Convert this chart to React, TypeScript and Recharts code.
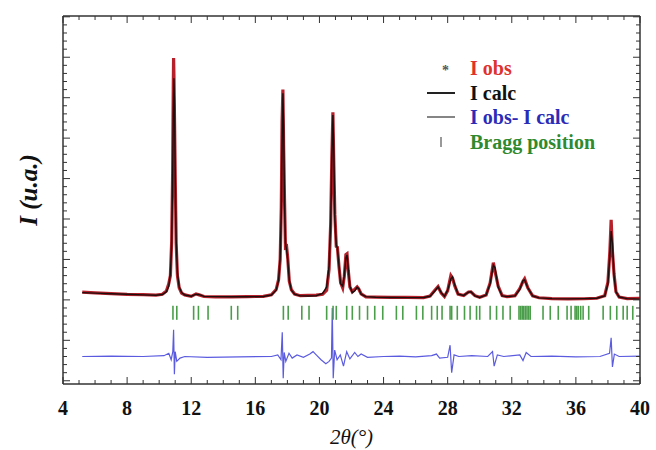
import React from 'react';
import {
  ComposedChart, Line, Scatter, XAxis, YAxis, Legend, Label,
} from 'recharts';

// 2θ / intensity pairs (arbitrary units)
const calcPts: [number, number][] = [
  [5.2, 90], [6.0, 84], [7.0, 76], [8.0, 70], [9.0, 62], [9.8, 58], [10.2, 66],
  [10.45, 100], [10.6, 170], [10.7, 330], [10.78, 700], [10.84, 1500], [10.88, 2300],
  [10.92, 2740], [10.96, 2400], [11.0, 1500], [11.06, 750], [11.14, 330], [11.25, 160],
  [11.4, 90], [11.6, 60], [12.0, 46], [12.3, 70], [12.5, 64], [12.8, 44], [13.5, 40],
  [14.5, 38], [15.5, 38], [16.5, 42], [17.0, 60], [17.3, 120], [17.45, 240], [17.55, 520],
  [17.62, 1100], [17.67, 1900], [17.72, 2556], [17.77, 2100], [17.82, 1200], [17.88, 700],
  [17.95, 620], [18.02, 500], [18.12, 240], [18.25, 120], [18.45, 70], [18.8, 50],
  [19.3, 48], [19.8, 52], [20.2, 80], [20.45, 160], [20.6, 420], [20.7, 950], [20.77, 1700],
  [20.84, 2285], [20.9, 1800], [20.96, 1000], [21.05, 680], [21.12, 640], [21.22, 420],
  [21.32, 200], [21.45, 170], [21.55, 300], [21.65, 520], [21.72, 556], [21.8, 380],
  [21.9, 170], [22.05, 90], [22.2, 110], [22.35, 155], [22.45, 140], [22.6, 70], [22.9, 40],
  [23.5, 32], [24.5, 30], [25.5, 28], [26.5, 30], [26.9, 45], [27.2, 110], [27.4, 160],
  [27.6, 90], [27.8, 45], [28.0, 120], [28.2, 260], [28.3, 284], [28.45, 180], [28.65, 70],
  [29.0, 55], [29.3, 95], [29.45, 100], [29.7, 50], [30.0, 30], [30.4, 60], [30.65, 200],
  [30.85, 430], [30.95, 400], [31.15, 160], [31.4, 50], [31.7, 40], [32.2, 50], [32.5, 130],
  [32.7, 240], [32.8, 247], [33.0, 150], [33.3, 50], [33.7, 25], [34.5, 15], [35.5, 12],
  [36.5, 15], [37.3, 20], [37.8, 50], [38.0, 200], [38.12, 560], [38.2, 850], [38.28, 700],
  [38.38, 300], [38.5, 100], [38.7, 35], [39.2, 15], [40.0, 10],
];

const obsPts: [number, number][] = [
  [5.2, 95], [6.0, 86], [7.0, 78], [8.0, 68], [9.0, 64], [9.8, 60], [10.2, 70],
  [10.45, 110], [10.6, 200], [10.7, 300], [10.78, 720], [10.84, 1560], [10.88, 2620],
  [10.9, 2990], [10.92, 2800], [10.96, 2200], [11.0, 1550], [11.06, 700], [11.14, 300],
  [11.25, 150], [11.4, 85], [11.6, 62], [12.0, 44], [12.3, 74], [12.5, 62], [12.8, 42],
  [13.5, 38], [14.5, 36], [15.5, 40], [16.5, 44], [17.0, 62], [17.3, 128], [17.45, 250],
  [17.55, 500], [17.62, 1150], [17.67, 2200], [17.72, 2600], [17.77, 1850], [17.82, 1250],
  [17.88, 650], [17.95, 660], [18.02, 520], [18.12, 230], [18.25, 125], [18.45, 72],
  [18.8, 52], [19.3, 55], [19.8, 58], [20.2, 70], [20.45, 120], [20.6, 380], [20.7, 930],
  [20.77, 1720], [20.84, 2320], [20.9, 1650], [20.96, 1060], [21.05, 660], [21.12, 650],
  [21.22, 410], [21.32, 215], [21.45, 150], [21.55, 290], [21.65, 560], [21.72, 570],
  [21.8, 360], [21.9, 160], [22.05, 100], [22.2, 130], [22.35, 160], [22.45, 135],
  [22.6, 75], [22.9, 38], [23.5, 34], [24.5, 30], [25.5, 30], [26.5, 28], [26.9, 48],
  [27.2, 120], [27.4, 165], [27.6, 85], [27.8, 42], [28.0, 115], [28.2, 300], [28.3, 270],
  [28.45, 170], [28.65, 72], [29.0, 55], [29.3, 98], [29.45, 100], [29.7, 52], [30.0, 32],
  [30.4, 60], [30.65, 210], [30.85, 460], [30.95, 360], [31.15, 170], [31.4, 52],
  [31.7, 40], [32.2, 52], [32.5, 140], [32.7, 230], [32.8, 260], [33.0, 150], [33.3, 50],
  [33.7, 26], [34.5, 16], [35.5, 12], [36.5, 14], [37.3, 20], [37.8, 52], [38.0, 220],
  [38.12, 600], [38.2, 990], [38.28, 600], [38.38, 320], [38.5, 100], [38.7, 35],
  [39.2, 16], [40.0, 20],
];

// Iobs - Icalc, drawn shifted down by DIFF_OFFSET
const DIFF_OFFSET = -700;
const diffPts: [number, number][] = [
  [5.2, 0], [7.0, 5], [9.0, 0], [10.3, 10], [10.6, 40], [10.75, -40], [10.85, 60],
  [10.9, 330], [10.95, -220], [11.0, 60], [11.1, -60], [11.3, -20], [11.6, 0], [13.0, -10],
  [15.0, -5], [17.0, 0], [17.4, 20], [17.6, -40], [17.68, 300], [17.74, -270], [17.8, 50],
  [17.9, -60], [18.1, 40], [18.3, -20], [18.6, 20], [19.0, -10], [19.4, 30], [19.6, 60],
  [19.8, 20], [20.1, -40], [20.4, -90], [20.6, -60], [20.75, -20], [20.8, 600],
  [20.86, -270], [20.95, 80], [21.1, -40], [21.3, 20], [21.5, -120], [21.7, 60],
  [21.9, -30], [22.2, 50], [22.4, 0], [22.6, 30], [23.0, -10], [24.0, 0], [25.0, 5],
  [26.0, -5], [27.0, 10], [27.3, 30], [27.5, -20], [28.0, -10], [28.15, 140],
  [28.25, -200], [28.4, 20], [28.7, 0], [29.5, 10], [30.5, 0], [30.8, 60], [30.9, -120],
  [31.1, 20], [31.5, 0], [32.5, 20], [32.7, -50], [32.9, 50], [33.2, 0], [34.5, 5],
  [36.0, -5], [37.5, 0], [38.1, 40], [38.2, 230], [38.28, -130], [38.4, 30], [38.7, 0],
  [40.0, 5],
];

const braggPos: number[] = [
  10.86, 11.1, 12.15, 12.45, 13.05, 14.5, 14.9, 17.75, 18.05, 18.9, 19.35, 20.45,
  20.85, 21.05, 21.7, 22.05, 22.5, 23.0, 23.45, 23.95, 24.8, 25.2, 26.05, 26.45, 27.0,
  27.35, 27.65, 28.15, 28.25, 28.6, 29.05, 29.4, 29.8, 30.0, 30.65, 31.05, 31.45, 31.9,
  32.45, 32.55, 32.65, 32.75, 32.85, 32.95, 33.05, 33.15, 33.95, 34.4, 34.9, 35.45,
  35.7, 35.95, 36.05, 36.15, 36.3, 36.45, 36.8, 37.7, 38.15, 38.55, 38.95, 39.2, 39.55,
];
const BRAGG_LEVEL = -160;

const X_DOMAIN: [number, number] = [4, 40];
const Y_DOMAIN: [number, number] = [-1040, 3510];
const X_TICKS = Array.from({ length: 37 }, (_, i) => 4 + i);
const Y_TICKS = Array.from({ length: 46 }, (_, i) => -1000 + i * 100);

const obsData = obsPts.map(([x, y]) => ({ x, y }));
const calcData = calcPts.map(([x, y]) => ({ x, y }));
const diffData = diffPts.map(([x, y]) => ({ x, y: y + DIFF_OFFSET }));
const braggData = braggPos.map(x => ({ x, y: BRAGG_LEVEL }));

const AXIS = '#333';
const SERIF = '"Liberation Serif", "Times New Roman", serif';

const BottomTick = ({ x, y, payload }: any) => {
  const major = payload.value % 4 === 0;
  return (
    <g>
      <line x1={x} x2={x} y1={y} y2={y - (major ? 7 : 4)} stroke={AXIS} />
      {major && (
        <text x={x} y={y + 31} textAnchor="middle" fontFamily={SERIF}
          fontWeight="bold" fontSize={20} fill="#111">{payload.value}</text>
      )}
    </g>
  );
};
const TopTick = ({ x, y, payload }: any) => (
  <line x1={x} x2={x} y1={y} y2={y + (payload.value % 4 === 0 ? 7 : 4)} stroke={AXIS} />
);
const LeftTick = ({ x, y, payload }: any) => (
  <line x1={x} x2={x + (payload.value % 500 === 0 ? 7 : 4)} y1={y} y2={y} stroke={AXIS} />
);
const RightTick = ({ x, y, payload }: any) => (
  <line x1={x} x2={x - (payload.value % 500 === 0 ? 7 : 4)} y1={y} y2={y} stroke={AXIS} />
);

const BraggMark = ({ cx, cy }: any) => (
  <line x1={cx} x2={cx} y1={cy - 7} y2={cy + 7} stroke="#4a9e4a" strokeWidth={1.6} />
);

const legendRows = [
  { label: 'I obs', color: '#e0322c', sym: 'star' },
  { label: 'I calc', color: '#111', sym: 'line' },
  { label: 'I obs- I calc', color: '#2b2bb8', sym: 'thin' },
  { label: 'Bragg position', color: '#2f8a2f', sym: 'tick' },
];

const renderLegend = () => (
  <div style={{ fontFamily: SERIF, fontWeight: 'bold', fontSize: 20 }}>
    {legendRows.map(r => (
      <div key={r.label} style={{ display: 'flex', alignItems: 'center', height: 24.5 }}>
        <svg width={43} height={24}>
          {r.sym === 'star' && <text x={15} y={19} fill="#555" fontSize={14}>*</text>}
          {r.sym === 'line' && <line x1={0} x2={28} y1={12} y2={12} stroke="#222" strokeWidth={2} />}
          {r.sym === 'thin' && <line x1={0} x2={28} y1={12} y2={12} stroke="#333" strokeWidth={1.2} />}
          {r.sym === 'tick' && <line x1={14} x2={14} y1={7} y2={17} stroke="#555" strokeWidth={1.2} />}
        </svg>
        <span style={{ color: r.color, lineHeight: 1 }}>{r.label}</span>
      </div>
    ))}
  </div>
);

export default function App() {
  return (
    <div style={{ position: 'absolute', left: 0, top: 0, background: '#fff' }}>
      <ComposedChart width={656} height={450} margin={{ top: 15, right: 15, left: 0, bottom: 0 }}>
        <XAxis xAxisId="b" dataKey="x" type="number" domain={X_DOMAIN} ticks={X_TICKS}
          allowDataOverflow interval={0} height={66} tickSize={0} tickMargin={0}
          tickLine={false} tick={<BottomTick />} stroke={AXIS} strokeWidth={1.5}>
          <Label value="2θ(°)" position="insideBottom" offset={6}
            style={{ fontFamily: SERIF, fontStyle: 'italic', fontSize: 21, fill: '#111' }} />
        </XAxis>
        <XAxis xAxisId="t" orientation="top" dataKey="x" type="number" domain={X_DOMAIN}
          ticks={X_TICKS} allowDataOverflow interval={0} height={1} tickSize={0}
          tickMargin={0} tickLine={false} tick={<TopTick />} stroke={AXIS} strokeWidth={1.5} />
        <YAxis yAxisId="l" type="number" domain={Y_DOMAIN} ticks={Y_TICKS} allowDataOverflow
          interval={0} width={63} tickSize={0} tickMargin={0} tickLine={false}
          tick={<LeftTick />} stroke={AXIS} strokeWidth={1.5}>
          <Label content={({ viewBox }: any) => {
            const cx = viewBox.x + 28;
            const cy = viewBox.y + viewBox.height / 2 - 10;
            return (
              <text x={cx} y={cy} transform={`rotate(-90 ${cx} ${cy})`} textAnchor="middle"
                dominantBaseline="central" fontFamily={SERIF} fontWeight="bold"
                fontStyle="italic" fontSize={25} fill="#111">I (u.a.)</text>
            );
          }} />
        </YAxis>
        <YAxis yAxisId="r" orientation="right" type="number" domain={Y_DOMAIN} ticks={Y_TICKS}
          allowDataOverflow interval={0} width={1} tickSize={0} tickMargin={0} tickLine={false}
          tick={<RightTick />} stroke={AXIS} strokeWidth={1.5} />
        <Legend content={renderLegend} layout="horizontal" verticalAlign="middle" align="center"
          wrapperStyle={{ position: 'absolute', left: 427, top: 56, width: 200 }} />
        {/* invisible series so the mirrored top/right frame axes get drawn */}
        <Line xAxisId="t" yAxisId="r" data={calcData} dataKey="y" dot={false} stroke="none"
          legendType="none" isAnimationActive={false} />
        <Scatter xAxisId="b" yAxisId="l" data={braggData} dataKey="y" name="Bragg position"
          shape={<BraggMark />} isAnimationActive={false} legendType="none" />
        <Line xAxisId="b" yAxisId="l" data={diffData} dataKey="y" type="linear" dot={false}
          stroke="#5b5be0" strokeWidth={1.2} isAnimationActive={false} />
        <Line xAxisId="b" yAxisId="l" data={obsData} dataKey="y" type="linear" dot={false}
          stroke="#b5202a" strokeWidth={3.2} isAnimationActive={false} />
        <Line xAxisId="b" yAxisId="l" data={calcData} dataKey="y" type="linear" dot={false}
          stroke="#1e0d0d" strokeWidth={1.4} isAnimationActive={false} />
      </ComposedChart>
    </div>
  );
}
